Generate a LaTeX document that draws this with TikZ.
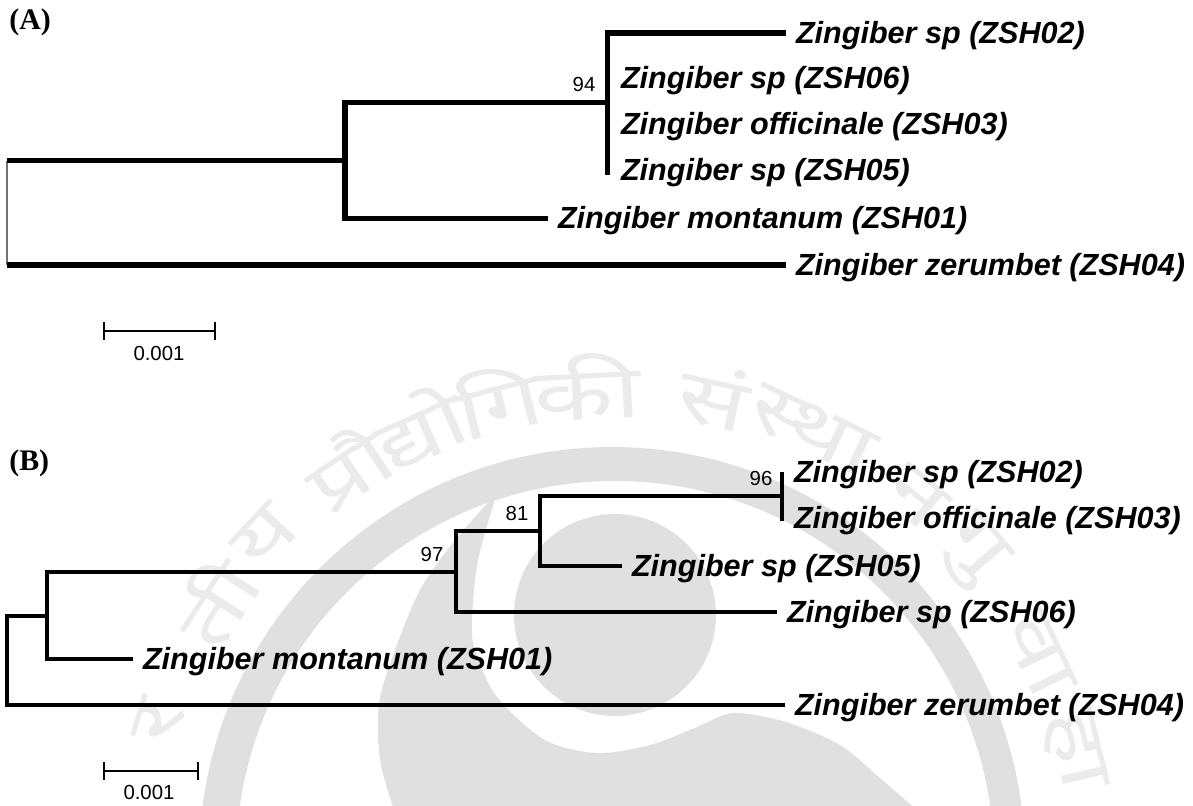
\documentclass[tikz,border=0pt]{standalone}
\usepackage{fontspec}
\setmainfont{Liberation Sans}
\newfontfamily\zsSerif{Liberation Serif}
\newfontfamily\zsDeva[Script=Devanagari,FakeStretch=1.4]{Noto Sans}
\usetikzlibrary{positioning,calc}
\newcommand{\zsWater}{black!12}
\newcommand{\zsWaterText}{black!8}
\tikzset{
  zsTaxon/.style={anchor=west, inner xsep=5.7pt, inner ysep=0pt, outer sep=0pt,
                  text height=12.4pt, text depth=1pt,
                  font=\fontsize{17.4}{20}\selectfont\bfseries\itshape},
  zsBoot/.style={inner sep=0pt, font=\fontsize{11.6}{14}\selectfont},
  zsPanel/.style={anchor=west, inner sep=0pt, font=\fontsize{17}{20}\selectfont\zsSerif\bfseries},
  zsEdgeA/.style={draw=black, line width=3.05pt},
  zsEdgeB/.style={draw=black, line width=2.2pt},
  zsRootA/.style={draw=black!55, line width=0.6pt},
  zsBar/.style={draw=black, line width=0.85pt},
  zsMark/.style={text=\zsWaterText, inner sep=0pt, font=\fontsize{42}{42}\selectfont\zsDeva},
}

\begin{document}
\begin{tikzpicture}[x=0.02cm,y=-0.02cm]
  \useasboundingbox (0,0) rectangle (1193,805);
  % watermark
  \begin{scope}
    \clip (0,0) rectangle (1193,805);
    \fill[\zsWater, even odd rule] (612,860) circle[radius=413] (615,860) circle[radius=379];
    \fill[\zsWater] (615,615) circle[radius=101];
    \fill[\zsWater] plot[smooth] coordinates {(497,493) (455,540) (420,590) (395,650) (379,703) (380,760) (394,810)}
      -- (920,810)
      -- plot[smooth] coordinates {(911,805) (880,778) (840,745) (786,722) (733,713) (697,727) (650,745) (597,753) (545,740) (497,697) (475,650) (472,620) (478,560) (497,493)} -- cycle;
    \foreach \zsAng/\zsTxt [count=\zsIdx] in {163/र,147/ती,137/य,124/प्रौ,114/द्यो,104/गि,93/की,77.6/सं,65/स्था,50/न,40.7/गु,25.7/वा,13.4/हा}
      \node[zsMark, rotate=\zsAng-90] (mark\zsIdx) at ($(612,860)+(\zsAng:474 and -474)$) {\zsTxt};
  \end{scope}
  % panel A
  \node[zsPanel] (panelA) at (9,22) {(A)};
  \node[zsTaxon] (a02) at (786,33) {Zingiber sp (ZSH02)};
  \node[zsTaxon] (a06) at (611,78) {Zingiber sp (ZSH06)};
  \node[zsTaxon] (a03) at (611,124) {Zingiber officinale (ZSH03)};
  \node[zsTaxon] (a05) at (611,170) {Zingiber sp (ZSH05)};
  \node[zsTaxon] (a01) at (548,218.5) {Zingiber montanum (ZSH01)};
  \node[zsTaxon] (a04) at (786,265) {Zingiber zerumbet (ZSH04)};
  \coordinate (aTop) at (7,160.5);
  \coordinate (aBot) at (7,265);
  \coordinate (aMid) at (345,160.5);
  \coordinate (aUp) at (345,102.5);
  \coordinate (aClade) at (607.5,102.5);
  \coordinate (aEnd) at (607.5,175);
  \draw[zsRootA] (aTop) -- (aBot);
  \draw[zsEdgeA] (aTop) -- (aMid);
  \draw[zsEdgeA] (aBot) -- (a04.west);
  \draw[zsEdgeA] (a01.west) -| (aUp) -- (aClade);
  \draw[zsEdgeA] (a02.west) -| (aEnd);
  \node[zsBoot] (b94) at (584,84) {94};
  \coordinate (aBarL) at (104,331);
  \coordinate (aBarR) at (215,331);
  \draw[zsBar] (aBarL) -- (aBarR);
  \draw[zsBar] ($(aBarL)+(0,-9)$) -- ($(aBarL)+(0,9)$);
  \draw[zsBar] ($(aBarR)+(0,-9)$) -- ($(aBarR)+(0,9)$);
  \node[zsBoot] (aScale) at (159,353) {0.001};
  % panel B
  \node[zsPanel] (panelB) at (9,463) {(B)};
  \node[zsTaxon] (c02) at (784,472) {Zingiber sp (ZSH02)};
  \node[zsTaxon] (c03) at (784,518) {Zingiber officinale (ZSH03)};
  \node[zsTaxon] (c05) at (622,566) {Zingiber sp (ZSH05)};
  \node[zsTaxon] (c06) at (777,612) {Zingiber sp (ZSH06)};
  \node[zsTaxon] (c01) at (133,659) {Zingiber montanum (ZSH01)};
  \node[zsTaxon] (c04) at (785,705) {Zingiber zerumbet (ZSH04)};
  \coordinate (cTop) at (7,616);
  \coordinate (cBot) at (7,705);
  \coordinate (cOne) at (47,616);
  \coordinate (cUp) at (47,572);
  \coordinate (cTwo) at (456,572);
  \coordinate (cUpTwo) at (456,531);
  \coordinate (cThree) at (540,531);
  \coordinate (cUpThree) at (540,496);
  \coordinate (cFour) at (782,496);
  \coordinate (cLow) at (782,472);
  \coordinate (cHigh) at (782,521);
  \draw[zsEdgeB] (c04.west) -- (cBot) -- (cTop) -- (cOne);
  \draw[zsEdgeB] (c01.west) -| (cUp) -- (cTwo);
  \draw[zsEdgeB] (c06.west) -| (cUpTwo) -- (cThree);
  \draw[zsEdgeB] (c05.west) -| (cUpThree) -- (cFour);
  \draw[zsEdgeB] (cLow) -- (cHigh);
  \node[zsBoot] (b96) at (761,478) {96};
  \node[zsBoot] (b81) at (517,513) {81};
  \node[zsBoot] (b97) at (432,554) {97};
  \coordinate (cBarL) at (104,771);
  \coordinate (cBarR) at (198,771);
  \draw[zsBar] (cBarL) -- (cBarR);
  \draw[zsBar] ($(cBarL)+(0,-9)$) -- ($(cBarL)+(0,9)$);
  \draw[zsBar] ($(cBarR)+(0,-9)$) -- ($(cBarR)+(0,9)$);
  \node[zsBoot] (cScale) at (149,792) {0.001};
\end{tikzpicture}
\end{document}
